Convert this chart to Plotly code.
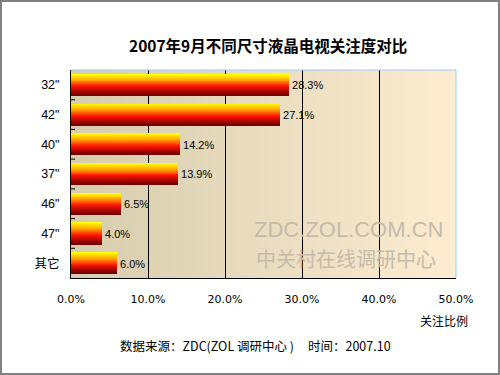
import base64, struct, zlib
import plotly.graph_objects as go

categories = ['32"', '42"', '40"', '37"', '46"', '47"', '其它']
values = [28.3, 27.1, 14.2, 13.9, 6.5, 4.0, 6.0]
x_ticks = [0, 10, 20, 30, 40, 50]
x_ticklabels = ["0.0%", "10.0%", "20.0%", "30.0%", "40.0%", "50.0%"]

title_text = "2007年9月不同尺寸液晶电视关注度对比"
axis_title = "关注比例"
source_text = "数据来源：ZDC(ZOL 调研中心 )&nbsp;&nbsp;&nbsp;&nbsp;&nbsp;时间：2007.10"
watermark_1 = "ZDC.ZOL.COM.CN"
watermark_2 = "中关村在线调研中心"

W, H = 500, 375
ML, MR, MT, MB = 71, 44, 70, 97
PW, PH = W - ML - MR, H - MT - MB


def lerp(c1, c2, t):
    return tuple(int(round(a + (b - a) * t)) for a, b in zip(c1, c2))


def png_data_uri(width, colors):
    raw = b"\x00" + b"".join(bytes(c) for c in colors)

    def chunk(tag, data):
        c = struct.pack(">I", len(data)) + tag + data
        return c + struct.pack(">I", zlib.crc32(tag + data) & 0xFFFFFFFF)

    png = b"\x89PNG\r\n\x1a\n"
    png += chunk(b"IHDR", struct.pack(">IIBBBBB", width, 1, 8, 2, 0, 0, 0))
    png += chunk(b"IDAT", zlib.compress(raw))
    png += chunk(b"IEND", b"")
    return "data:image/png;base64," + base64.b64encode(png).decode()


bg_left, bg_right = (214, 204, 174), (253, 236, 208)
bg_uri = png_data_uri(PW, [lerp(bg_left, bg_right, i / (PW - 1)) for i in range(PW)])

# vertical gradient stops for bars (top -> bottom)
stops = [(0.0, (255, 255, 0)), (0.3, (255, 160, 0)), (0.6, (255, 20, 0)), (1.0, (120, 0, 0))]


def grad(t):
    for (t0, c0), (t1, c1) in zip(stops[:-1], stops[1:]):
        if t <= t1:
            return lerp(c0, c1, (t - t0) / (t1 - t0))
    return stops[-1][1]


fig = go.Figure()
BAR_W = 0.71
N = 22
sw = BAR_W / N
for i in range(N):
    c = grad(i / (N - 1))
    fig.add_trace(go.Bar(
        y=list(range(len(categories))), x=values, orientation="h",
        width=sw * 1.05, offset=-BAR_W / 2 + i * sw,
        marker=dict(color="rgb(%d,%d,%d)" % c, line=dict(width=0)),
        hoverinfo="skip", showlegend=False,
    ))

fig.add_trace(go.Bar(
    y=list(range(len(categories))), x=values, orientation="h",
    width=BAR_W, offset=-BAR_W / 2,
    marker=dict(color="rgba(0,0,0,0)", line=dict(width=0)),
    text=["%.1f%%" % v for v in values], textposition="outside",
    textfont=dict(family="Liberation Sans, Arial", size=11, color="black"),
    constraintext="none", cliponaxis=False, hoverinfo="skip", showlegend=False,
))

shapes = [
    # top and right light-blue border of plot area
    dict(type="line", xref="paper", yref="paper", x0=0, x1=1, y0=1, y1=1,
         line=dict(color="#99CCFF", width=1)),
    dict(type="line", xref="paper", yref="paper", x0=1, x1=1, y0=0, y1=1,
         line=dict(color="#99CCFF", width=1)),
    # outer frame
    dict(type="rect", xref="paper", yref="paper",
         x0=-(ML - 1) / PW, x1=1 + (MR - 1) / PW,
         y0=-(MB - 1) / PH, y1=1 + (MT - 1) / PH,
         line=dict(color="#808080", width=2)),
]

annotations = [
    dict(text="<b>%s</b>" % title_text, xref="paper", yref="paper",
         x=(267.5 - ML) / PW, y=1 + (MT - 45) / PH, showarrow=False,
         xanchor="center", yanchor="middle",
         font=dict(family="Noto Sans CJK SC", size=15.5, color="black")),
    dict(text=axis_title, xref="paper", yref="paper",
         x=(470 - ML) / PW, y=-(320 - MT - PH) / PH, showarrow=False,
         xanchor="right", yanchor="middle",
         font=dict(family="Noto Sans CJK SC", size=12, color="black")),
    dict(text=source_text, xref="paper", yref="paper",
         x=(255 - ML) / PW, y=-(345 - MT - PH) / PH, showarrow=False,
         xanchor="center", yanchor="middle",
         font=dict(family="Noto Sans CJK SC", size=12.5, color="black")),
    # watermark
    dict(text=watermark_1, xref="paper", yref="paper",
         x=(348 - ML) / PW, y=(MT + PH - 243) / PH, showarrow=False,
         xanchor="center", yanchor="bottom", borderpad=0,
         font=dict(family="Liberation Sans, Arial", size=22, color="#c4bcab")),
    dict(text=watermark_2, xref="paper", yref="paper",
         x=(346 - ML) / PW, y=(MT + PH - 243) / PH, showarrow=False,
         xanchor="center", yanchor="top", borderpad=0,
         font=dict(family="Noto Sans CJK SC", size=20, color="#c4bcab")),
]

fig.update_layout(
    width=W, height=H,
    margin=dict(l=ML, r=MR, t=MT, b=MB, pad=0),
    paper_bgcolor="white", plot_bgcolor="rgba(0,0,0,0)",
    barmode="overlay", bargap=0,
    showlegend=False,
    shapes=shapes, annotations=annotations,
    images=[dict(source=bg_uri, xref="paper", yref="paper", x=0, y=1,
                 sizex=1, sizey=1, sizing="stretch", xanchor="left", yanchor="top",
                 layer="below")],
    xaxis=dict(range=[0, 50], tickvals=x_ticks, ticktext=x_ticklabels,
               showgrid=True, gridcolor="black", gridwidth=1, zeroline=False,
               showline=True, linecolor="black", linewidth=1,
               ticks="outside", ticklen=11, tickcolor="rgba(0,0,0,0)",
               tickfont=dict(family="DejaVu Sans", size=11, color="black"),
               fixedrange=True),
    yaxis=dict(range=[len(categories) - 0.5, -0.5],
               tickvals=list(range(len(categories))), ticktext=categories,
               showgrid=False, zeroline=False,
               showline=True, linecolor="black", linewidth=1,
               ticks="",
               tickfont=dict(family="Liberation Sans, Noto Sans CJK SC", size=12.5, color="black"),
               ticklabelstandoff=8, fixedrange=True),
)

# inner tick marks on category boundaries of the y axis
for k in range(1, len(categories)):
    fig.add_shape(type="line", xref="paper", yref="y", x0=0, x1=4 / PW,
                  y0=k - 0.5, y1=k - 0.5, line=dict(color="black", width=1))

fig.write_html("out.html")
